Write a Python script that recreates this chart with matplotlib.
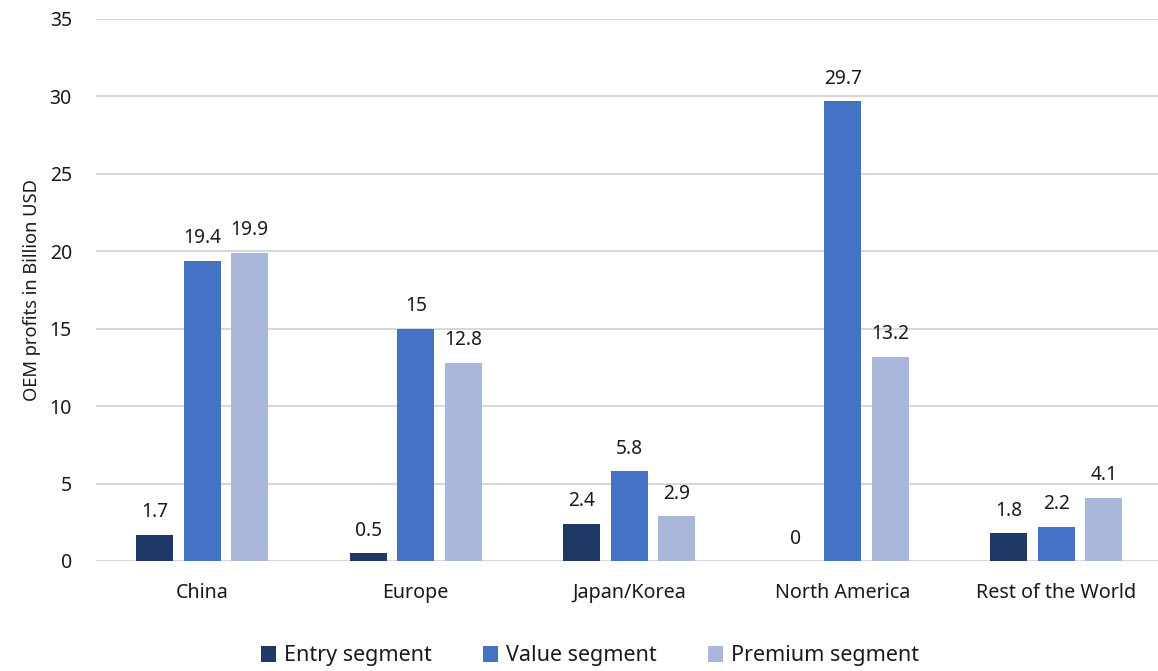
import matplotlib
matplotlib.use("Agg")
import matplotlib.pyplot as plt
import numpy as np

plt.rcParams['font.family'] = ['Noto Sans', 'DejaVu Sans']

categories = ["China", "Europe", "Japan/Korea", "North America", "Rest of the World"]
series_names = ["Entry segment", "Value segment", "Premium segment"]
entry = [1.7, 0.5, 2.4, 0, 1.8]
value = [19.4, 15, 5.8, 29.7, 2.2]
premium = [19.9, 12.8, 2.9, 13.2, 4.1]
colors = ["#203864", "#4472C4", "#A9B7DB"]
yticks = [0, 5, 10, 15, 20, 25, 30, 35]

W, H = 1158, 671
fig = plt.figure(figsize=(W / 100, H / 100), dpi=100)
left, right = 95.5, 1163
bottom, top = 561, 19
ax = fig.add_axes([left / W, (H - bottom) / H, (right - left) / W, (bottom - top) / H])

x = np.arange(len(categories))
step = 0.2225
width = 0.173
for i, (vals, name, c) in enumerate(zip([entry, value, premium], series_names, colors)):
    pos = x + (i - 1) * step
    ax.bar(pos, vals, width=width, color=c, label=name, zorder=3)
    for p, v in zip(pos, vals):
        lab = f"{v:g}"
        ax.annotate(lab, (p, v), xytext=(0, 9), textcoords="offset points",
                    ha="center", va="bottom", fontsize=13.8, color="#1a1a1a")

ax.set_xlim(-0.5, len(categories) - 0.5)
ax.set_ylim(0, 35)
ax.set_yticks(yticks)
ax.set_yticklabels([str(t) for t in yticks], fontsize=14, color="#1a1a1a")
ax.set_xticks(x)
ax.set_xticklabels(categories, fontsize=14.2, color="#1a1a1a")
ax.tick_params(axis="both", length=0)
ax.tick_params(axis="y", pad=17)
ax.tick_params(axis="x", pad=16)
ax.grid(axis="y", color="#D9D9D9", linewidth=1.5, zorder=0)
for s in ax.spines.values():
    s.set_visible(False)
ax.set_ylabel("OEM profits in Billion USD", fontsize=13.2, color="#1a1a1a", labelpad=6)

leg = fig.legend(loc="center", bbox_to_anchor=(590 / W, 1 - 656 / H), ncol=3,
                 frameon=False, fontsize=15.5, handlelength=0.7, handleheight=0.7,
                 handletextpad=0.35, columnspacing=2.4)
for t in leg.get_texts():
    t.set_color("#1a1a1a")

fig.savefig("out.png", dpi=100)
